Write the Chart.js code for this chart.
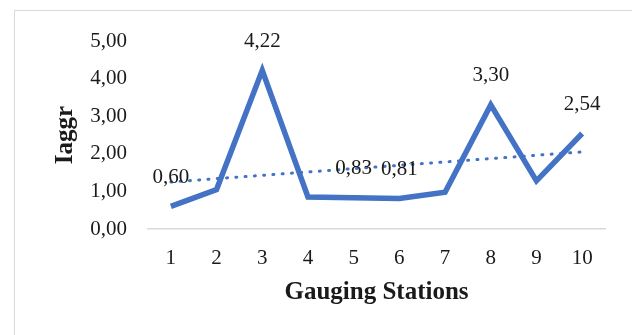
<!DOCTYPE html>
<html>
<head>
<meta charset="utf-8">
<script src="https://cdn.jsdelivr.net/npm/chart.js@4"></script>
<style>
  html, body { margin: 0; padding: 0; background: #fff; overflow: hidden; }
  #wrap { position: relative; width: 632px; height: 335px; }
  #frame { position: absolute; left: 14px; top: 10px; width: 700px; height: 400px; border: 1.5px solid #d9d9d9; }
  #iaggr { position: absolute; left: 0; top: 0; }
</style>
</head>
<body>
<div id="wrap">
  <div id="frame"></div>
  <canvas id="iaggr" width="632" height="335"></canvas>
</div>
<script>
const stations = ["1", "2", "3", "4", "5", "6", "7", "8", "9", "10"];
const iaggrValues = [0.60, 1.05, 4.22, 0.85, 0.83, 0.81, 0.98, 3.30, 1.28, 2.54];
// trendline end points (linear, first and last station)
const trendValues = [1.25, null, null, null, null, null, null, null, null, 2.05];
const labelShown = [true, false, true, false, true, true, false, true, false, true];
const yTicks = [0, 1, 2, 3, 4, 5];

function fmt(v) {
  return v.toFixed(2).replace(".", ",");
}

const pointLabels = {
  id: "pointLabels",
  afterDatasetsDraw(chart) {
    const ctx = chart.ctx;
    const meta = chart.getDatasetMeta(0);
    ctx.save();
    ctx.font = "21px 'Liberation Serif'";
    ctx.fillStyle = "#1a1a1a";
    ctx.textAlign = "center";
    ctx.textBaseline = "middle";
    meta.data.forEach(function (pt, i) {
      if (!labelShown[i]) return;
      ctx.fillText(fmt(iaggrValues[i]), pt.x, pt.y - 29);
    });
    ctx.restore();
  },
};

const ctx = document.getElementById("iaggr");
new Chart(ctx, {
  type: "line",
  data: {
    labels: stations,
    datasets: [
      {
        data: iaggrValues,
        borderColor: "#4472c4",
        borderWidth: 5.5,
        borderJoinStyle: "miter",
        pointRadius: 0,
        tension: 0,
        order: 1,
      },
      {
        data: trendValues,
        borderColor: "#4472c4",
        borderWidth: 3,
        borderDash: [1, 8.3],
        borderCapStyle: "round",
        pointRadius: 0,
        spanGaps: true,
        order: 2,
      },
    ],
  },
  options: {
    responsive: false,
    animation: false,
    layout: {
      padding: { left: 50, right: 27, top: 41, bottom: 0 },
    },
    plugins: {
      legend: { display: false },
      tooltip: { enabled: false },
    },
    scales: {
      x: {
        offset: true,
        grid: {
          display: false,
          drawTicks: false,
        },
        border: { display: true, color: "#d9d9d9", width: 1.5 },
        ticks: {
          color: "#1a1a1a",
          font: { family: "'Liberation Serif'", size: 21 },
          padding: 17,
          maxRotation: 0,
        },
        title: {
          display: true,
          text: "Gauging Stations",
          color: "#1a1a1a",
          font: { family: "'Liberation Serif'", size: 25, weight: "bold" },
          padding: { top: 0, bottom: 27 },
        },
        afterFit: function (scale) {
          scale.height = 106;
        },
      },
      y: {
        min: 0,
        max: 5,
        afterBuildTicks: function (scale) {
          scale.ticks = yTicks.map(function (v) { return { value: v }; });
        },
        grid: { display: false, drawTicks: false },
        border: { display: false },
        ticks: {
          color: "#1a1a1a",
          font: { family: "'Liberation Serif'", size: 21 },
          padding: 21,
          callback: function (value) {
            return fmt(value);
          },
        },
        title: {
          display: true,
          text: "Iaggr",
          color: "#1a1a1a",
          font: { family: "'Liberation Serif'", size: 25, weight: "bold" },
          padding: { top: 1, bottom: 0 },
        },
        afterFit: function (scale) {
          scale.width = 98;
        },
      },
    },
  },
  plugins: [pointLabels],
});
</script>
</body>
</html>
